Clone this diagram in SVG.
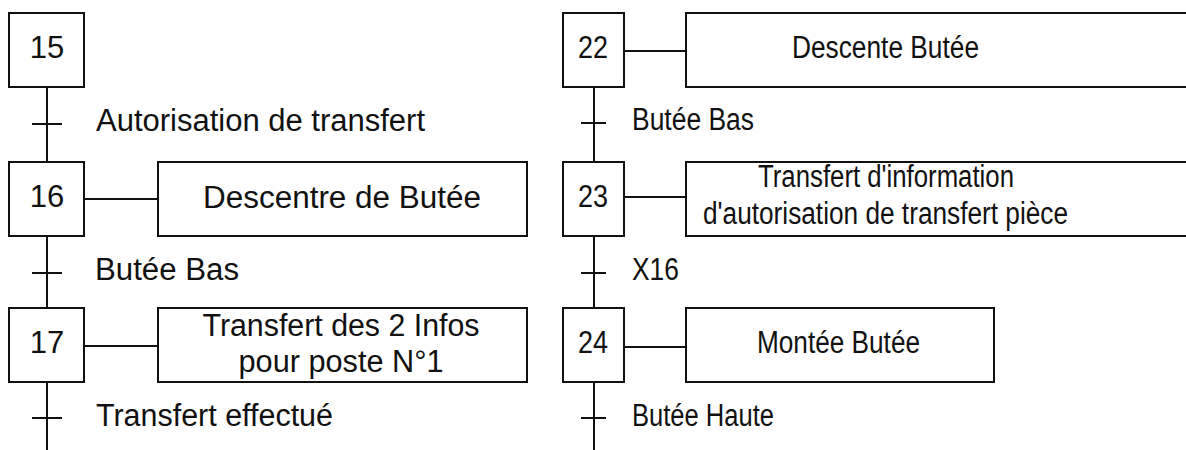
<svg xmlns="http://www.w3.org/2000/svg" width="1186" height="450" viewBox="0 0 1186 450">
<style>
.box{fill:#fff;stroke:#111;stroke-width:2}
.ln{stroke:#111;stroke-width:2;fill:none}
text{font-family:"Liberation Sans",Arial,sans-serif;font-size:31px;fill:#111}
.c{text-anchor:middle}
</style>
<rect width="1186" height="450" fill="#fff"/>
<g id="connectors">
<path class="ln" d="M47 87V162M47 236V308M47 382V450M594 87V162M594 236V308M594 382V450"/>
<path class="ln" d="M32 124H62M32 273H62M32 418H62M581 123H606M581 273H606M581 418H606"/>
<path class="ln" d="M84 199H158M84 346H158M624 51H686M624 197H686M624 347H686"/>
</g>
<g id="step15"><rect class="box" x="9" y="13" width="75" height="74"/><text class="c" x="47" y="58">15</text></g>
<g id="t15"><text x="96" y="131" textLength="329" lengthAdjust="spacingAndGlyphs">Autorisation de transfert</text></g>
<g id="step16"><rect class="box" x="9" y="162" width="75" height="74"/><text class="c" x="47" y="207">16</text></g>
<g id="action16"><rect class="box" x="158" y="162" width="369" height="74"/><text class="c" x="342" y="208" textLength="278" lengthAdjust="spacingAndGlyphs">Descentre de Butée</text></g>
<g id="t16"><text x="95" y="280" textLength="144" lengthAdjust="spacingAndGlyphs">Butée Bas</text></g>
<g id="step17"><rect class="box" x="9" y="308" width="75" height="74"/><text class="c" x="47" y="353">17</text></g>
<g id="action17"><rect class="box" x="158" y="308" width="369" height="74"/><text class="c" x="341" y="336" textLength="277" lengthAdjust="spacingAndGlyphs">Transfert des 2 Infos</text><text class="c" x="341" y="372" textLength="205" lengthAdjust="spacingAndGlyphs">pour poste N°1</text></g>
<g id="t17"><text x="96" y="426" textLength="237" lengthAdjust="spacingAndGlyphs">Transfert effectué</text></g>
<g id="step22"><rect class="box" x="563" y="13" width="61" height="74"/><text class="c" x="593" y="58" textLength="30" lengthAdjust="spacingAndGlyphs">22</text></g>
<g id="action22"><rect class="box" x="686" y="13" width="510" height="74"/><text class="c" x="885.5" y="58" textLength="187" lengthAdjust="spacingAndGlyphs">Descente Butée</text></g>
<g id="t22"><text x="632" y="130" textLength="122" lengthAdjust="spacingAndGlyphs">Butée Bas</text></g>
<g id="step23"><rect class="box" x="563" y="162" width="61" height="74"/><text class="c" x="593" y="207" textLength="30" lengthAdjust="spacingAndGlyphs">23</text></g>
<g id="action23"><rect class="box" x="686" y="162" width="510" height="74"/><text class="c" x="886" y="187" textLength="256" lengthAdjust="spacingAndGlyphs">Transfert d'information</text><text class="c" x="885.5" y="224" textLength="365" lengthAdjust="spacingAndGlyphs">d'autorisation de transfert pièce</text></g>
<g id="t23"><text x="632" y="280" textLength="47" lengthAdjust="spacingAndGlyphs">X16</text></g>
<g id="step24"><rect class="box" x="563" y="308" width="61" height="74"/><text class="c" x="593" y="353" textLength="30" lengthAdjust="spacingAndGlyphs">24</text></g>
<g id="action24"><rect class="box" x="686" y="308" width="308" height="74"/><text class="c" x="838.5" y="353" textLength="163" lengthAdjust="spacingAndGlyphs">Montée Butée</text></g>
<g id="t24"><text x="632" y="426" textLength="142" lengthAdjust="spacingAndGlyphs">Butée Haute</text></g>
</svg>
